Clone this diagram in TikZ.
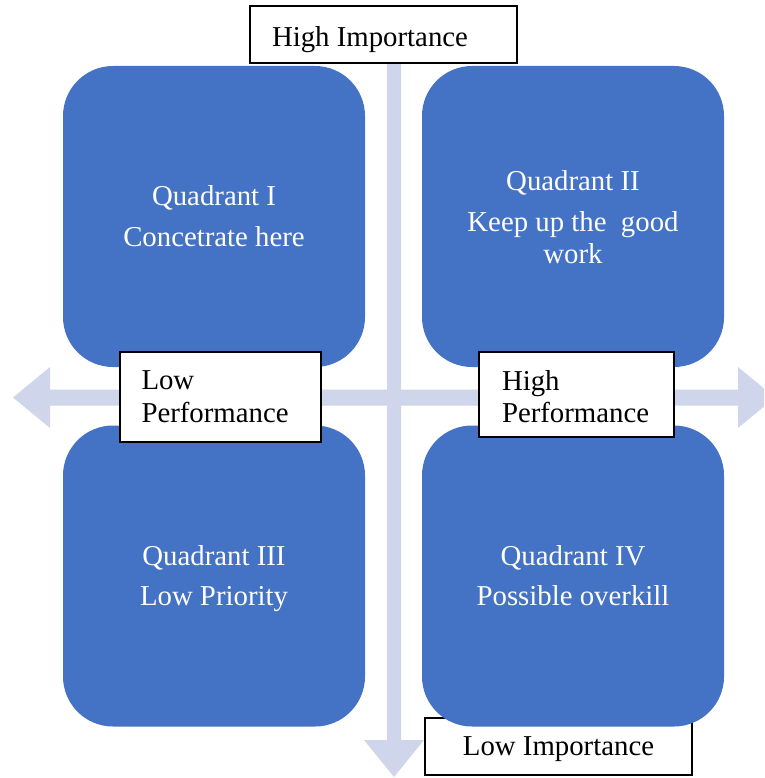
\documentclass[tikz,border=0pt]{standalone}
\usepackage{fontspec}
\setmainfont{Liberation Serif}
\definecolor{qblue}{HTML}{4472C4}
\definecolor{axiscol}{HTML}{CFD5EA}
\newcommand\qfont{\fontsize{28.8}{31}\selectfont}
\newcommand\pfont{\fontsize{28.8}{33}\selectfont}
\begin{document}
\begin{tikzpicture}[x=1pt,y=-1pt,
  quad/.style={fill=qblue, rounded corners=50pt, minimum width=302pt, minimum height=301pt,
    inner sep=0pt, text=white, align=center, font=\qfont},
  lbl/.style={draw=black, line width=1.2pt, fill=white, inner sep=0pt, font=\qfont},
  plbl/.style={lbl, font=\pfont, align=left}]
\useasboundingbox (0,0) rectangle (764,778);
\clip (0,0) rectangle (764,778);
% axes
\fill[axiscol] (13,397.5) -- (50,367) -- (50,389.5) -- (738,389.5) -- (738,367) -- (775,397.5)
  -- (738,428) -- (738,405.5) -- (50,405.5) -- (50,428) -- cycle;
\fill[axiscol] (387,40) -- (401,40) -- (401,740) -- (424,740) -- (394,777) -- (364,740) -- (387,740) -- cycle;
% axis labels
\node[lbl, minimum width=267pt, minimum height=57pt, text height=28pt, text depth=3pt]
  (hi) at (383.5,34.5) {High Importance\hspace*{27pt}};
\node[lbl, minimum width=267pt, minimum height=57pt, text height=22pt, text depth=5pt]
  (li) at (558.5,746.5) {Low Importance};
% quadrants
\node[quad, text height=61pt, text depth=1pt] (q1) at (214,216.5) {Quadrant I\\[10pt]Concetrate here};
\node[quad, text height=94pt, text depth=1pt] (q2) at (573,216.5) {Quadrant II\\[10pt]Keep up the\ \ good\\[1pt]work};
\node[quad, text height=60pt, text depth=2pt] (q3) at (214,576) {Quadrant III\\[9pt]Low Priority};
\node[quad, text height=60pt, text depth=2pt] (q4) at (573,576) {Quadrant IV\\[9pt]Possible overkill};
% performance labels
\node[plbl, text width=158pt, inner xsep=21.5pt, minimum height=90pt, text height=20pt, text depth=36pt]
  (lp) at (220.5,397) {Low\\Performance};
\node[plbl, text width=149pt, inner xsep=23pt, minimum height=85pt, text height=20pt, text depth=29pt]
  (hp) at (576.5,394.5) {High\\[-1pt]Performance};
\end{tikzpicture}
\end{document}
